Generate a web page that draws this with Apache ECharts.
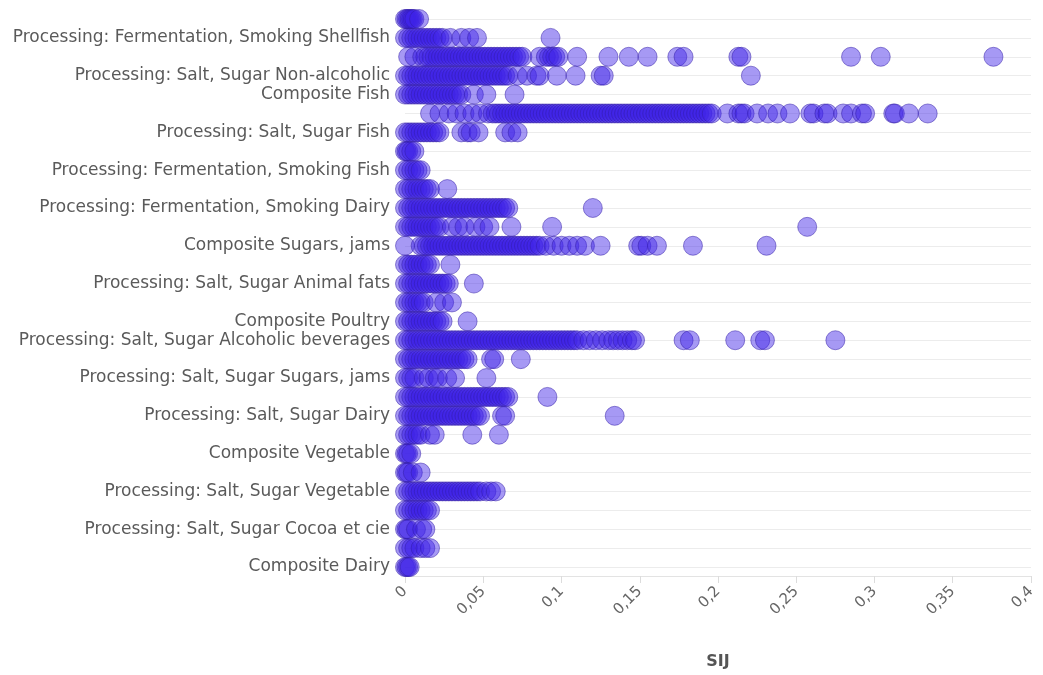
<!DOCTYPE html>
<html>
<head>
<meta charset="utf-8">
<script src="https://cdn.jsdelivr.net/npm/echarts@6/dist/echarts.min.js"></script>
<style>
html,body{margin:0;padding:0;background:#fff;}
#chart{width:1043px;height:675px;}
</style>
</head>
<body>
<div id="chart"></div>
<script>
// Categories, top to bottom. Rows whose label is not printed in the reference keep a placeholder name.
const categories = [
  "Unlabelled row 1",
  "Processing: Fermentation, Smoking Shellfish",
  "Unlabelled row 3",
  "Processing: Salt, Sugar Non-alcoholic",
  "Composite Fish",
  "Unlabelled row 6",
  "Processing: Salt, Sugar Fish",
  "Unlabelled row 8",
  "Processing: Fermentation, Smoking Fish",
  "Unlabelled row 10",
  "Processing: Fermentation, Smoking Dairy",
  "Unlabelled row 12",
  "Composite Sugars, jams",
  "Unlabelled row 14",
  "Processing: Salt, Sugar Animal fats",
  "Unlabelled row 16",
  "Composite Poultry",
  "Processing: Salt, Sugar Alcoholic beverages",
  "Unlabelled row 19",
  "Processing: Salt, Sugar Sugars, jams",
  "Unlabelled row 21",
  "Processing: Salt, Sugar Dairy",
  "Unlabelled row 23",
  "Composite Vegetable",
  "Unlabelled row 25",
  "Processing: Salt, Sugar Vegetable",
  "Unlabelled row 27",
  "Processing: Salt, Sugar Cocoa et cie",
  "Unlabelled row 29",
  "Composite Dairy"
];
// indices of the rows whose label is printed
const labelledRows = [1,3,4,6,8,10,12,14,16,17,19,21,23,25,27,29];

// SIJ values per row
const r00 = [0,0.001,0.002,0.003,0.004,0.005,0.006,0.009];
const r01 = [0,0.002,0.004,0.006,0.008,0.01,0.012,0.014,0.016,0.018,0.02,0.022,0.024,0.029,0.036,0.041,0.046,0.093];
const r02 = [0.002,0.006,0.011,0.013,0.015,0.017,0.019,0.021,0.023,0.025,0.027,0.029,0.031,0.033,0.035,0.037,0.039,0.041,0.043,0.045,0.047,0.049,0.051,0.053,0.055,0.057,0.059,0.061,0.063,0.065,0.067,0.069,0.071,0.073,0.075,0.086,0.09,0.092,0.094,0.096,0.098,0.11,0.13,0.143,0.155,0.174,0.178,0.213,0.215,0.285,0.304,0.376];
const r03 = [0,0.002,0.004,0.006,0.008,0.01,0.012,0.014,0.016,0.018,0.02,0.022,0.024,0.026,0.028,0.03,0.032,0.034,0.036,0.038,0.04,0.042,0.044,0.046,0.048,0.05,0.052,0.054,0.056,0.058,0.06,0.062,0.064,0.066,0.072,0.078,0.084,0.086,0.097,0.109,0.125,0.127,0.221];
const r04 = [0,0.002,0.004,0.006,0.008,0.01,0.012,0.014,0.016,0.018,0.02,0.022,0.024,0.026,0.028,0.03,0.032,0.034,0.036,0.044,0.052,0.07];
const r05 = [0.016,0.022,0.028,0.033,0.038,0.043,0.048,0.053,0.056,0.058,0.06,0.062,0.064,0.066,0.068,0.07,0.072,0.074,0.076,0.078,0.08,0.082,0.084,0.086,0.088,0.09,0.092,0.094,0.096,0.098,0.1,0.102,0.104,0.106,0.108,0.11,0.112,0.114,0.116,0.118,0.12,0.122,0.124,0.126,0.128,0.13,0.132,0.134,0.136,0.138,0.14,0.142,0.144,0.146,0.148,0.15,0.152,0.154,0.156,0.158,0.16,0.162,0.164,0.166,0.168,0.17,0.172,0.174,0.176,0.178,0.18,0.182,0.184,0.186,0.188,0.19,0.192,0.194,0.196,0.206,0.213,0.215,0.217,0.225,0.232,0.238,0.246,0.259,0.261,0.268,0.27,0.28,0.285,0.292,0.294,0.312,0.313,0.322,0.334];
const r06 = [0,0.002,0.004,0.006,0.008,0.01,0.012,0.014,0.016,0.018,0.02,0.022,0.036,0.04,0.042,0.047,0.064,0.068,0.072];
const r07 = [0,0.001,0.002,0.004,0.006];
const r08 = [0,0.002,0.004,0.006,0.008,0.01];
const r09 = [0,0.002,0.004,0.006,0.008,0.01,0.012,0.014,0.016,0.027];
const r10 = [0,0.002,0.004,0.006,0.008,0.01,0.012,0.014,0.016,0.018,0.02,0.022,0.024,0.026,0.028,0.03,0.032,0.034,0.036,0.038,0.04,0.042,0.044,0.046,0.048,0.05,0.052,0.054,0.056,0.058,0.06,0.062,0.064,0.066,0.12];
const r11 = [0,0.002,0.004,0.006,0.008,0.01,0.012,0.014,0.016,0.018,0.02,0.022,0.03,0.034,0.038,0.045,0.05,0.054,0.068,0.094,0.257];
const r12 = [0,0.01,0.012,0.014,0.016,0.018,0.02,0.022,0.024,0.026,0.028,0.03,0.032,0.034,0.036,0.038,0.04,0.042,0.044,0.046,0.048,0.05,0.052,0.054,0.056,0.058,0.06,0.062,0.064,0.066,0.068,0.07,0.072,0.074,0.076,0.078,0.08,0.082,0.084,0.086,0.09,0.095,0.1,0.105,0.11,0.115,0.125,0.149,0.151,0.155,0.161,0.184,0.231];
const r13 = [0,0.002,0.004,0.006,0.008,0.01,0.012,0.014,0.016,0.029];
const r14 = [0,0.002,0.004,0.006,0.008,0.01,0.012,0.014,0.016,0.018,0.02,0.022,0.024,0.026,0.028,0.044];
const r15 = [0,0.002,0.004,0.006,0.008,0.01,0.012,0.02,0.025,0.03];
const r16 = [0,0.002,0.004,0.006,0.008,0.01,0.012,0.014,0.016,0.018,0.02,0.022,0.024,0.04];
const r17 = [0,0.002,0.004,0.006,0.008,0.01,0.012,0.014,0.016,0.018,0.02,0.022,0.024,0.026,0.028,0.03,0.032,0.034,0.036,0.038,0.04,0.042,0.044,0.046,0.048,0.05,0.052,0.054,0.056,0.058,0.06,0.062,0.064,0.066,0.068,0.07,0.072,0.074,0.076,0.078,0.08,0.082,0.084,0.086,0.088,0.09,0.092,0.094,0.096,0.098,0.1,0.102,0.104,0.106,0.108,0.11,0.114,0.118,0.122,0.126,0.13,0.133,0.136,0.139,0.142,0.145,0.147,0.178,0.182,0.211,0.227,0.23,0.275];
const r18 = [0,0.002,0.004,0.006,0.008,0.01,0.012,0.014,0.016,0.018,0.02,0.022,0.024,0.026,0.028,0.03,0.032,0.034,0.036,0.038,0.04,0.055,0.057,0.074];
const r19 = [0,0.002,0.004,0.006,0.012,0.015,0.019,0.021,0.027,0.032,0.052];
const r20 = [0,0.002,0.004,0.006,0.008,0.01,0.012,0.014,0.016,0.018,0.02,0.022,0.024,0.026,0.028,0.03,0.032,0.034,0.036,0.038,0.04,0.042,0.044,0.046,0.048,0.05,0.052,0.054,0.056,0.058,0.06,0.062,0.064,0.066,0.091];
const r21 = [0,0.002,0.004,0.006,0.008,0.01,0.012,0.014,0.016,0.018,0.02,0.022,0.024,0.026,0.028,0.03,0.032,0.034,0.036,0.038,0.04,0.042,0.044,0.046,0.048,0.062,0.064,0.134];
const r22 = [0,0.002,0.004,0.006,0.008,0.01,0.016,0.019,0.043,0.06];
const r23 = [0,0.001,0.002,0.004];
const r24 = [0,0.001,0.002,0.005,0.01];
const r25 = [0,0.002,0.004,0.006,0.008,0.01,0.012,0.014,0.016,0.018,0.02,0.022,0.024,0.026,0.028,0.03,0.032,0.034,0.036,0.038,0.04,0.042,0.044,0.046,0.048,0.052,0.055,0.058];
const r26 = [0,0.002,0.004,0.006,0.008,0.01,0.012,0.014,0.016];
const r27 = [0,0.001,0.002,0.007,0.011,0.013];
const r28 = [0,0.002,0.004,0.006,0.01,0.013,0.016];
const r29 = [0,0.001,0.002,0.003];

const rows = [r00,r01,r02,r03,r04,r05,r06,r07,r08,r09,r10,r11,r12,r13,r14,r15,r16,r17,r18,r19,r20,r21,r22,r23,r24,r25,r26,r27,r28,r29];

const xMin = 0, xMax = 0.4, xStep = 0.05;
const xTitle = "SIJ";

const points = [];
rows.forEach((vals, k) => vals.forEach(v => points.push([v, k])));

const FONT = "'DejaVu Sans', 'Noto Sans', sans-serif";
const chart = echarts.init(document.getElementById('chart'), null, {renderer: 'canvas'});
chart.setOption({
  animation: false,
  backgroundColor: '#ffffff',
  grid: {left: 405, right: 12, top: 19, bottom: 107, containLabel: false},
  xAxis: {
    type: 'value',
    min: xMin, max: xMax, interval: xStep,
    offset: 9,
    name: xTitle,
    nameLocation: 'middle',
    nameGap: 78,
    nameTextStyle: {fontFamily: FONT, fontSize: 16, fontWeight: 'bold', color: '#555'},
    axisLine: {show: true, lineStyle: {color: '#e3e3e3', width: 1}},
    axisTick: {show: true, length: 7, lineStyle: {color: '#dcdcdc'}},
    splitLine: {show: false},
    axisLabel: {
      rotate: 45, margin: 13,
      fontFamily: FONT, fontSize: 15, color: '#666',
      formatter: v => String(Math.round(v * 100) / 100).replace('.', ',')
    }
  },
  yAxis: {
    type: 'category',
    data: categories,
    inverse: true,
    boundaryGap: false,
    axisLine: {show: false},
    axisTick: {show: false},
    splitLine: {show: true, interval: 0, lineStyle: {color: '#ececec', width: 1}},
    axisLabel: {
      interval: (i) => labelledRows.indexOf(i) >= 0,
      margin: 15,
      fontFamily: FONT, fontSize: 17, color: '#5a5a5a'
    }
  },
  series: [{
    type: 'scatter',
    data: points,
    symbol: 'circle',
    symbolSize: 19,
    itemStyle: {
      opacity: 1,
      color: 'rgba(60, 32, 232, 0.46)',
      borderColor: 'rgba(50, 28, 165, 0.5)',
      borderWidth: 1
    }
  }]
});
</script>
</body>
</html>
